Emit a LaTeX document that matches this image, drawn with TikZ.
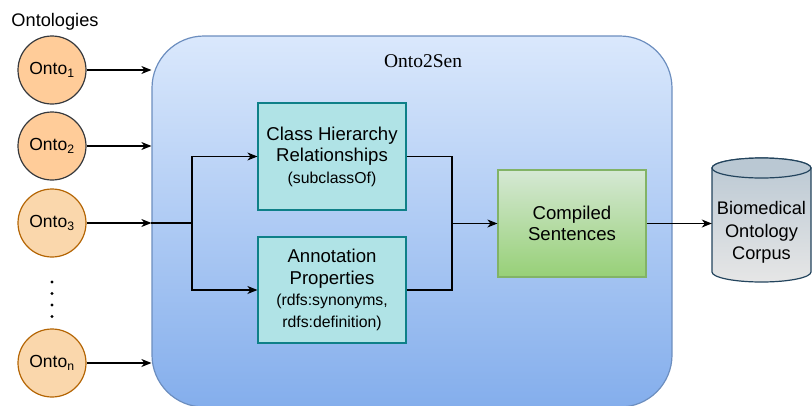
\documentclass[tikz,border=0pt]{standalone}
\usepackage{fontspec}
\setmainfont{Liberation Sans}
\newfontfamily\serifft{Liberation Serif}
\usetikzlibrary{arrows.meta,calc}
\definecolor{bigtop}{HTML}{DAE8FC}
\definecolor{bigbot}{HTML}{84AEEC}
\definecolor{bigstroke}{HTML}{6C8EBF}
\definecolor{tealfill}{HTML}{B0E3E6}
\definecolor{tealstroke}{HTML}{0E8088}
\definecolor{greentop}{HTML}{D5E8D4}
\definecolor{greenbot}{HTML}{97D077}
\definecolor{greenstroke}{HTML}{82B366}
\definecolor{cyltop}{HTML}{BAC8D3}
\definecolor{cylbot}{HTML}{E6E6E6}
\definecolor{cylstroke}{HTML}{23445D}
\definecolor{ontoafill}{HTML}{FFCC99}
\definecolor{ontoastroke}{HTML}{36393D}
\definecolor{ontobfill}{HTML}{FAD7AC}
\definecolor{ontobstroke}{HTML}{B46504}
\tikzset{
  conn/.style={line width=1.3pt, draw=black},
  arr/.style={conn, -{Stealth[length=10pt,width=8pt,inset=3pt]}},
  ontoa/.style={circle, draw=ontoastroke, fill=ontoafill, line width=1.2pt, minimum size=68pt, inner sep=0pt, font=\fontsize{17.5}{20}\selectfont},
  ontob/.style={circle, draw=ontobstroke, fill=ontobfill, line width=1.2pt, minimum size=68pt, inner sep=0pt, font=\fontsize{17.5}{20}\selectfont},
  tealbox/.style={rectangle, draw=tealstroke, fill=tealfill, line width=1.2pt, minimum width=148pt, minimum height=107pt, align=center, inner sep=0pt, font=\fontsize{18.6}{21.5}\selectfont},
  greenbox/.style={rectangle, draw=greenstroke, top color=greentop, bottom color=greenbot, line width=1.2pt, minimum width=148pt, minimum height=107pt, align=center, inner sep=0pt, font=\fontsize{18.6}{21.5}\selectfont},
  dotmark/.style={circle, fill=black, inner sep=0pt, minimum size=3.2pt},
}
\begin{document}
\begin{tikzpicture}[x=1pt,y=-1pt]
\useasboundingbox (0,0) rectangle (812,405);
\clip (0,0) rectangle (812,405);
% main container
\node[draw=bigstroke, line width=1.2pt, top color=bigtop, bottom color=bigbot, rounded corners=52pt, minimum width=520pt, minimum height=371pt, inner sep=0pt] (main) at (412,221.5) {};
\node[font=\serifft\fontsize{19.5}{22}\selectfont] (title) at (423,61) {Onto2Sen};
% ontologies
\node[font=\fontsize{18.2}{21}\selectfont] (ontlabel) at (55,22) {Ontologies};
\node[ontoa] (o1) at (52,70) {Onto\textsubscript{1}};
\node[ontoa] (o2) at (52,146) {Onto\textsubscript{2}};
\node[ontob] (o3) at (52,223) {Onto\textsubscript{3}};
\node[ontob] (on) at (52,363) {Onto\textsubscript{n}};
\node[dotmark] (d1) at (52,282) {};
\node[dotmark] (d2) at (52,293.5) {};
\node[dotmark] (d3) at (52,305) {};
\node[dotmark] (d4) at (52,316.5) {};
% inner boxes
\node[tealbox] (class) at (332,156.5) {Class Hierarchy\\Relationships\\{\fontsize{15.8}{19}\selectfont (subclassOf)}};
\node[tealbox, minimum height=106pt] (annot) at (332,290) {Annotation\\Properties\\{\fontsize{15.8}{19.5}\selectfont (rdfs:synonyms,}\\{\fontsize{15.8}{19.5}\selectfont rdfs:definition)}};
\node[greenbox] (comp) at (572,223.5) {Compiled\\Sentences};
% cylinder
\path[draw=cylstroke, line width=1.2pt, top color=cyltop, bottom color=cylbot]
  (712,168) -- (712,272) arc[start angle=180, end angle=360, x radius=49.5pt, y radius=10pt]
  -- (811,168) arc[start angle=0, end angle=180, x radius=49.5pt, y radius=10pt] -- cycle;
\draw[draw=cylstroke, line width=1.2pt, fill=cyltop] (761.5,168) ellipse[x radius=49.5pt, y radius=10pt];
\node[minimum width=99pt, inner sep=0pt, align=center, font=\fontsize{18.2}{22.5}\selectfont] (cyl) at (761.5,232.5) {Biomedical\\Ontology\\Corpus};
% connectors
\coordinate (split) at (192,223);
\coordinate (join) at (452,223.5);
\draw[arr] (o1) -- (o1 -| main.west);
\draw[arr] (o2) -- (o2 -| main.west);
\draw[arr] (o3) -- (o3 -| main.west);
\draw[arr] (on) -- (on -| main.west);
\draw[conn] (o3 -| main.west) -- (split);
\draw[arr] (split) |- (class.west);
\draw[arr] (split) |- (annot.west);
\draw[conn] (class.east) -| (join);
\draw[conn] (annot.east) -| (join);
\draw[arr] (join) -- (comp.west);
\draw[arr] (comp.east) -- (comp.east -| cyl.west);
\end{tikzpicture}
\end{document}
